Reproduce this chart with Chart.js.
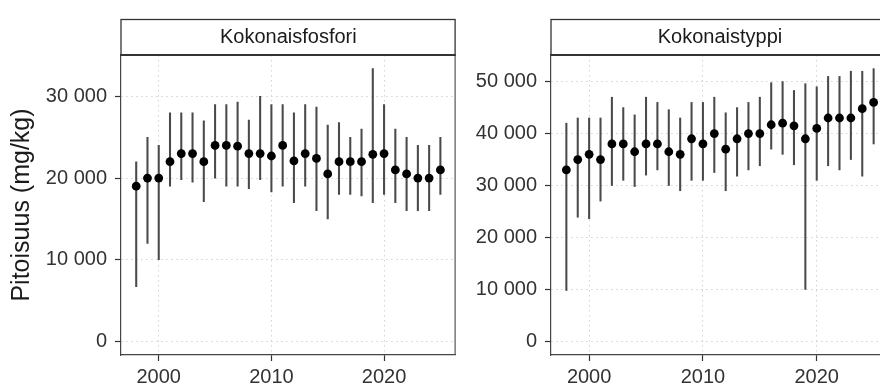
<!DOCTYPE html>
<html><head><meta charset="utf-8">
<script src="https://cdn.jsdelivr.net/npm/chart.js@4.4.1/dist/chart.umd.min.js"></script>
<style>
html,body{margin:0;padding:0;background:#fff;overflow:hidden;width:880px;height:385px;position:relative;}
#c1{position:absolute;left:0;top:0;width:460px;height:385px;}
#c2{position:absolute;left:460px;top:0;width:440px;height:385px;}
</style></head><body>
<canvas id="c1" width="460" height="385"></canvas>
<canvas id="c2" width="440" height="385"></canvas>
<script>
// ---- data ----
const years = [1998,1999,2000,2001,2002,2003,2004,2005,2006,2007,2008,2009,2010,2011,2012,2013,2014,2015,2016,2017,2018,2019,2020,2021,2022,2023,2024,2025];

const panelTitles = ['Kokonaisfosfori', 'Kokonaistyppi'];
const yTitle = 'Pitoisuus (mg/kg)';

const pMean = [19000,20000,20000,22000,23000,23000,22000,24000,24000,23900,23000,23000,22700,24000,22100,23000,22400,20500,22000,22000,22000,22900,23000,21000,20500,20000,20000,21000];
const pLow  = [6700,12000,10000,19000,19800,19500,17100,20000,19000,19000,18700,19800,18300,19000,17000,19000,16000,15000,18000,18000,17800,17000,18000,17000,16000,16000,16000,18000];
const pHigh = [22000,25000,24000,28000,28000,28000,27000,29000,29000,29300,27100,30000,29000,29000,28000,29000,28700,26500,26800,25000,26000,33400,29000,26000,25000,24000,24000,25000];

const nMean = [33000,35000,36000,35000,38000,38000,36500,38000,38000,36500,36000,39000,38000,40000,37000,39000,40000,40000,41700,42000,41500,39000,41000,43000,43000,43000,44800,46000];
const nLow  = [9800,23900,23600,27000,30000,31000,29800,32000,33000,30000,29000,31000,31000,32500,29000,31800,33000,33800,37000,36000,34000,10000,31000,33800,33000,35000,31800,38000];
const nHigh = [42000,43000,43000,43000,47000,45000,43600,47000,46000,44600,43000,46000,46000,47000,44000,45000,46000,47000,49800,50000,48300,49600,49000,51000,51000,52000,52000,52500];

const xTicks = [2000, 2010, 2020];
const pTicks = [0, 10000, 20000, 30000];
const nTicks = [0, 10000, 20000, 30000, 40000, 50000];

// ---- helpers ----
const FONT = '"Liberation Sans", Arial, Helvetica, sans-serif';
const fmt = v => String(v).replace(/\B(?=(\d{3})+(?!\d))/g, ' ');
function expand(lo, hi, f) { const d = (hi - lo) * f; return [lo - d, hi + d]; }
const xRange = expand(Math.min(...years), Math.max(...years), 0.05);

const stripPlugin = {
  id: 'strip',
  afterDraw(chart, args, opts) {
    const {ctx, chartArea: a} = chart;
    ctx.save();
    // right panel border
    ctx.strokeStyle = '#555';
    ctx.lineWidth = 1.2;
    ctx.beginPath();
    ctx.moveTo(a.right - 0.5, a.top);
    ctx.lineTo(a.right - 0.5, a.bottom);
    ctx.stroke();
    // strip box
    const top = opts.top;
    ctx.fillStyle = '#fff';
    ctx.fillRect(a.left, top, a.right - a.left, a.top - top);
    ctx.strokeStyle = '#333';
    ctx.lineWidth = 1.3;
    ctx.strokeRect(a.left, top + 0.5, a.right - a.left - 0.5, a.top - top - 0.5);
    ctx.lineWidth = 2.2;
    ctx.beginPath();
    ctx.moveTo(a.left - 0.5, a.top);
    ctx.lineTo(a.right, a.top);
    ctx.stroke();
    ctx.fillStyle = '#1a1a1a';
    ctx.font = '20px ' + FONT;
    ctx.textAlign = 'center';
    ctx.textBaseline = 'alphabetic';
    ctx.fillText(opts.text, (a.left + a.right) / 2, opts.baseline);
    ctx.restore();
  }
};

function makeChart(id, title, mean, low, high, yTicks, axisWidth, padRight, showTitle) {
  const yR = expand(0, Math.max(...high), 0.05);
  return new Chart(document.getElementById(id), {
    type: 'scatter',
    data: {
      datasets: [
        {
          type: 'scatter',
          data: years.map((y, i) => ({x: y, y: mean[i]})),
          pointRadius: 4.4,
          pointHoverRadius: 4.4,
          pointBackgroundColor: '#000',
          pointBorderWidth: 0,
          order: 0
        },
        {
          type: 'bar',
          data: years.map((y, i) => ({x: y, y: [low[i], high[i]]})),
          backgroundColor: '#4a4a4a',
          borderWidth: 0,
          barThickness: 1.4,
          grouped: false,
          order: 1
        }
      ]
    },
    options: {
      responsive: false,
      animation: false,
      devicePixelRatio: 1,
      layout: {padding: {top: 55, right: padRight, bottom: 0, left: 0}},
      plugins: {
        legend: {display: false},
        tooltip: {enabled: false},
        strip: {text: title, top: 19, baseline: 42.5}
      },
      scales: {
        x: {
          type: 'linear',
          offset: false,
          min: xRange[0],
          max: xRange[1],
          afterBuildTicks: s => { s.ticks = xTicks.map(v => ({value: v})); },
          afterFit: s => { s.height = 30; },
          ticks: {
            callback: v => String(v),
            color: '#333',
            font: {size: 20, family: FONT},
            padding: 4,
            maxRotation: 0,
            autoSkip: false
          },
          grid: {
            offset: false,
            color: '#d2d2d2',
            lineWidth: 1,
            tickColor: '#333',
            tickLength: 6,
            tickWidth: 1.2
          },
          border: {display: true, color: '#444', width: 1.2, dash: [1.5, 3.5]}
        },
        y: {
          type: 'linear',
          min: yR[0],
          max: yR[1],
          afterBuildTicks: s => { s.ticks = yTicks.map(v => ({value: v})); },
          afterFit: s => { s.width = axisWidth; },
          ticks: {
            callback: v => fmt(v),
            color: '#333',
            font: {size: 20, family: FONT},
            padding: 8,
            autoSkip: false
          },
          grid: {
            color: '#d2d2d2',
            lineWidth: 1,
            tickColor: '#333',
            tickLength: 6,
            tickWidth: 1.2
          },
          border: {display: true, color: '#444', width: 1.2, dash: [1.5, 3.5]},
          title: {
            display: showTitle,
            text: yTitle,
            color: '#1a1a1a',
            font: {size: 25, family: FONT},
            padding: {top: 7, bottom: 0}
          }
        }
      }
    },
    plugins: [stripPlugin]
  });
}

makeChart('c1', panelTitles[0], pMean, pLow, pHigh, pTicks, 121, 2, true);
makeChart('c2', panelTitles[1], nMean, nLow, nHigh, nTicks, 91, 11, false);
</script>
</body></html>
